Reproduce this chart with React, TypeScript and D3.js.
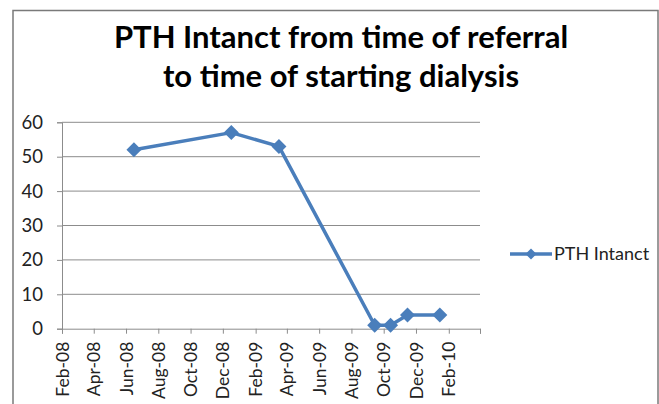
import { useEffect, useRef } from 'react'
import * as d3 from 'd3'

const dates = ['2008-06-16', '2008-12-17', '2009-03-17', '2009-09-14', '2009-10-14', '2009-11-15', '2010-01-15']
const values = [52, 57, 53, 1, 1, 4, 4]
const yTicks = [0, 10, 20, 30, 40, 50, 60]
const titleLines = ['PTH Intanct from time of referral', 'to time of starting dialysis']
const seriesName = 'PTH Intanct'

const W = 659
const H = 404
const FONT = 'Lato, "Open Sans", sans-serif'
const BLUE = '#4a7ebb'

export default function App() {
  const svgRef = useRef<SVGSVGElement>(null)

  useEffect(() => {
    if (!svgRef.current) return
    const svg = d3.select(svgRef.current)
    svg.selectAll('*').remove()

    const parse = d3.timeParse('%Y-%m-%d')
    const pts = dates.map((d, i) => ({ date: parse(d) as Date, value: values[i] }))

    const left = 62, right = 480, top = 122.3, bottom = 328.7
    const start = new Date(2008, 1, 1)
    const end = new Date(2010, 3, 1)

    const x = d3.scaleTime().domain([start, end]).range([left, right])
    const y = d3.scaleLinear().domain([0, 60]).range([bottom, top])

    svg.append('rect').attr('width', W).attr('height', H).attr('fill', '#fff')
    svg.append('rect')
      .attr('x', 13).attr('y', 10.5).attr('width', 645).attr('height', 420)
      .attr('fill', 'none').attr('stroke', '#7a7a7a').attr('stroke-width', 1.5)

    // Title
    titleLines.forEach((t, i) => {
      svg.append('text')
        .attr('x', 341).attr('y', 48 + i * 39)
        .attr('text-anchor', 'middle')
        .attr('font-family', FONT).attr('font-weight', 700).attr('font-size', 31)
        .attr('fill', '#000')
        .text(t)
    })

    // Grid
    svg.append('g')
      .selectAll('line')
      .data(yTicks.filter(d => d > 0))
      .enter().append('line')
      .attr('x1', left).attr('x2', right)
      .attr('y1', d => y(d)).attr('y2', d => y(d))
      .attr('stroke', '#8c8c8c').attr('stroke-width', 1)

    // Y axis
    svg.append('g')
      .attr('transform', `translate(${left},0)`)
      .call(d3.axisLeft(y).tickValues(yTicks).tickSize(5).tickPadding(14))
      .call(ax => ax.select('.domain').attr('stroke', '#8c8c8c'))
      .call(ax => ax.selectAll('.tick line').attr('stroke', '#8c8c8c'))
      .call(ax => ax.selectAll('.tick text').attr('fill', '#222').attr('font-size', 18.5).attr('font-family', FONT))

    // X axis, every 2 months from Feb-08
    const xTicks = d3.timeMonth.range(start, new Date(2010, 3, 2), 2)
    svg.append('g')
      .attr('transform', `translate(0,${bottom})`)
      .call(d3.axisBottom(x).tickValues(xTicks).tickSize(5).tickFormat(d => {
        const dt = d as Date
        return +dt === +end ? '' : d3.timeFormat('%b-%y')(dt)
      }))
      .call(ax => ax.select('.domain').attr('stroke', '#8c8c8c'))
      .call(ax => ax.selectAll('.tick line').attr('stroke', '#8c8c8c'))
      .call(ax => ax.selectAll('.tick text')
        .attr('fill', '#222').attr('font-size', 17.5).attr('font-family', FONT)
        .attr('transform', 'rotate(-90)')
        .attr('text-anchor', 'end')
        .attr('x', -13).attr('y', 0).attr('dy', '0.35em'))

    // Line
    const line = d3.line<{ date: Date; value: number }>()
      .x(d => x(d.date))
      .y(d => y(d.value))
    svg.append('path')
      .datum(pts)
      .attr('fill', 'none')
      .attr('stroke', BLUE)
      .attr('stroke-width', 3.5)
      .attr('stroke-linejoin', 'round')
      .attr('d', line)

    const diamond = (r: number) => `M0,${-r}L${r},0L0,${r}L${-r},0Z`
    svg.append('g')
      .selectAll('path')
      .data(pts)
      .enter().append('path')
      .attr('transform', d => `translate(${x(d.date)},${y(d.value)})`)
      .attr('d', diamond(7.5))
      .attr('fill', BLUE)

    // Legend
    const lg = svg.append('g').attr('transform', 'translate(510,254)')
    lg.append('line').attr('x1', 0).attr('x2', 42).attr('y1', 0).attr('y2', 0)
      .attr('stroke', BLUE).attr('stroke-width', 3.5)
    lg.append('path').attr('transform', 'translate(21,0)').attr('d', diamond(5.5)).attr('fill', BLUE)
    lg.append('text')
      .attr('x', 44).attr('y', 0).attr('dy', '0.35em')
      .attr('font-family', FONT).attr('font-size', 18).attr('fill', '#222')
      .text(seriesName)
  }, [])

  return (
    <div style={{ position: 'fixed', left: 0, top: 0 }}>
      <svg ref={svgRef} width={W} height={H} style={{ display: 'block' }} />
    </div>
  )
}
